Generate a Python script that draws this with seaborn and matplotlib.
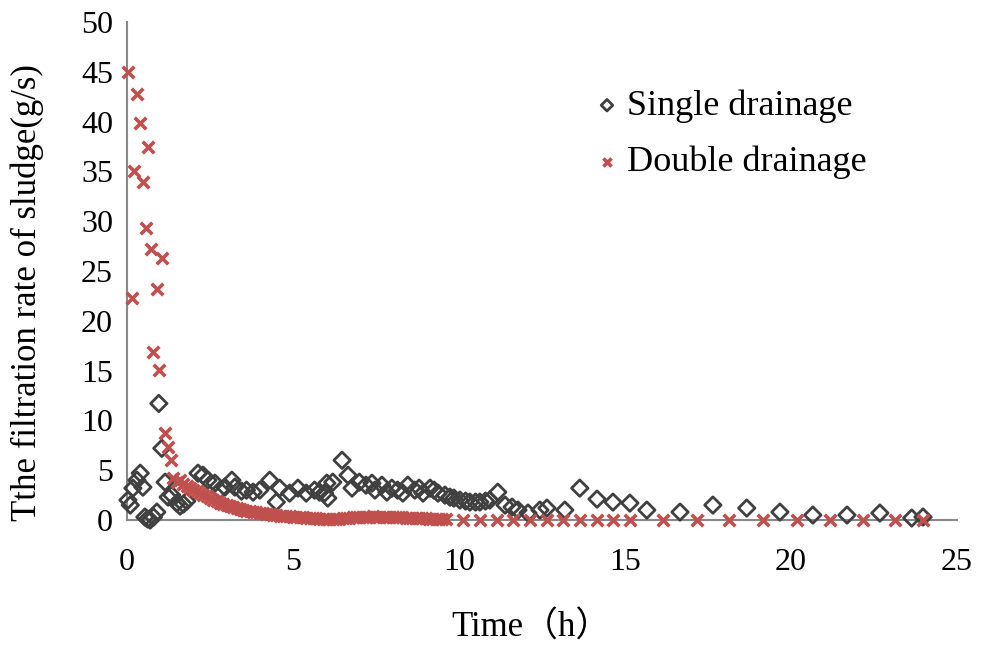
import pandas as pd
import matplotlib
matplotlib.use('Agg')
import matplotlib.pyplot as plt
import seaborn as sns

# Single drainage (open diamonds)
single_t = [0.03, 0.1, 0.18, 0.3, 0.4, 0.48, 0.54, 0.62, 0.7, 0.8, 0.9, 0.96, 1.05, 1.15, 1.24,
            1.35, 1.5, 1.6, 1.7, 1.8, 2.14, 2.29, 2.44, 2.65, 2.8, 2.95, 3.16, 3.25, 3.45, 3.6,
            3.8, 4.0, 4.3, 4.5, 4.6, 4.9, 5.15, 5.4, 5.65, 5.8, 5.95, 6.02, 6.05, 6.2, 6.48,
            6.66, 6.78, 7.0, 7.2, 7.38, 7.47, 7.68, 7.83, 7.98, 8.15, 8.31, 8.46, 8.67, 8.8,
            8.92, 9.13, 9.25, 9.37, 9.58, 9.73, 9.85, 10.03, 10.2, 10.33, 10.5, 10.63, 10.8,
            10.93, 11.17, 11.39, 11.6, 11.78, 12.08, 12.44, 12.65, 13.19, 13.64, 14.16, 14.64,
            15.15, 15.66, 16.66, 17.65, 18.67, 19.67, 20.66, 21.69, 22.68, 23.64, 23.98]
single_v = [2.0, 1.5, 3.2, 4.0, 4.7, 3.3, 0.3, 0.1, 0.0, 0.3, 0.8, 11.7, 7.2, 3.8, 2.3,
            2.5, 1.7, 1.4, 1.6, 1.9, 4.7, 4.5, 4.0, 3.7, 3.0, 3.3, 4.0, 3.3, 2.9, 3.0,
            2.8, 3.0, 4.0, 1.8, 3.2, 2.7, 3.2, 2.7, 3.0, 2.8, 2.7, 3.7, 2.2, 3.8, 6.0,
            4.5, 3.2, 3.8, 3.5, 3.7, 3.0, 3.5, 2.8, 3.2, 3.0, 2.7, 3.5, 3.0, 3.2,
            2.7, 3.2, 3.0, 2.7, 2.5, 2.3, 2.2, 2.0, 1.9, 1.8, 1.8, 1.8, 1.9,
            2.0, 2.8, 1.5, 1.3, 1.0, 0.7, 1.0, 1.2, 1.0, 3.2, 2.1, 1.8,
            1.7, 1.0, 0.8, 1.5, 1.2, 0.8, 0.5, 0.5, 0.7, 0.2, 0.3]

# Double drainage (red crosses)
double_t = [0.03, 0.15, 0.2, 0.3, 0.4, 0.48, 0.57, 0.63, 0.72, 0.78, 0.9, 0.96, 1.05, 1.15, 1.24, 1.32,
            1.4, 1.5, 1.6, 1.7, 1.8, 1.9, 2.0, 2.1, 2.2, 2.3, 2.4, 2.5, 2.6, 2.7, 2.8, 2.9,
            3.0, 3.1, 3.2, 3.3, 3.4, 3.5, 3.6, 3.7, 3.8, 3.9, 4.0, 4.1, 4.2, 4.3, 4.4, 4.5,
            4.6, 4.7, 4.8, 4.9, 5.0, 5.1, 5.2, 5.3, 5.4, 5.5, 5.6, 5.7, 5.8, 5.9, 6.0, 6.1,
            6.2, 6.3, 6.4, 6.5, 6.6, 6.7, 6.8, 6.9, 7.0, 7.1, 7.2, 7.3, 7.4, 7.5, 7.6, 7.7,
            7.8, 7.9, 8.0, 8.1, 8.2, 8.3, 8.4, 8.5, 8.6, 8.7, 8.8, 8.9, 9.0, 9.1, 9.2, 9.3,
            9.4, 9.5, 9.6, 10.12, 10.63, 11.14, 11.63, 12.14, 12.65, 13.13, 13.64, 14.16,
            14.63, 15.15, 16.14, 17.17, 18.14, 19.16, 20.18, 21.17, 22.17, 23.13, 23.98]
double_v = [45.0, 22.3, 35.0, 42.8, 39.9, 33.9, 29.3, 37.4, 27.2, 16.9, 23.2, 15.1, 26.3, 8.7, 7.3, 6.0,
            4.2, 3.8, 4.0, 3.6, 3.4, 3.2, 3.0, 2.9, 2.7, 2.5, 2.4, 2.2, 2.0, 1.9, 1.7, 1.6,
            1.5, 1.4, 1.3, 1.2, 1.1, 1.0, 0.95, 0.9, 0.85, 0.8, 0.75, 0.7, 0.65, 0.6, 0.55, 0.5,
            0.45, 0.42, 0.4, 0.38, 0.35, 0.32, 0.3, 0.28, 0.25, 0.22, 0.2, 0.18, 0.15, 0.12, 0.1, 0.08,
            0.1, 0.12, 0.15, 0.2, 0.22, 0.25, 0.28, 0.3, 0.32, 0.33, 0.35, 0.35, 0.36, 0.35, 0.34, 0.33,
            0.32, 0.3, 0.3, 0.28, 0.27, 0.26, 0.25, 0.24, 0.22, 0.2, 0.2, 0.18, 0.17, 0.15, 0.15, 0.14,
            0.13, 0.12, 0.11, 0.05, 0.05, 0.05, 0.05, 0.05, 0.05, 0.05, 0.05, 0.05,
            0.05, 0.05, 0.05, 0.05, 0.05, 0.05, 0.05, 0.05, 0.05, 0.05, 0.05]

x_ticks = [0, 5, 10, 15, 20, 25]
y_ticks = [0, 5, 10, 15, 20, 25, 30, 35, 40, 45, 50]

df_single = pd.DataFrame({'Time': single_t, 'Rate': single_v})
df_double = pd.DataFrame({'Time': double_t, 'Rate': double_v})

sns.set_style('white')
plt.rcParams['font.family'] = ['Liberation Serif', 'Noto Sans CJK SC']
plt.rcParams['text.color'] = 'black'
plt.rcParams['axes.labelcolor'] = 'black'
plt.rcParams['xtick.color'] = 'black'
plt.rcParams['ytick.color'] = 'black'

fig = plt.figure(figsize=(9.88, 6.46), dpi=100)
ax = fig.add_axes([0.1285, 0.195, 0.840, 0.771])

sns.scatterplot(data=df_single, x='Time', y='Rate', ax=ax, marker='D', s=70,
                facecolor='none', edgecolor='#404040', linewidth=2,
                label='Single drainage', clip_on=False, zorder=3)
sns.scatterplot(data=df_double, x='Time', y='Rate', ax=ax, marker='x', s=70,
                color='#c0504d', linewidth=2.6,
                label='Double drainage', clip_on=False, zorder=4)

ax.set_xlim(0, 25)
ax.set_ylim(0, 50)
ax.set_xticks(x_ticks)
ax.set_yticks(y_ticks)
ax.tick_params(direction='in', length=6, width=1.3, color='#888888', labelcolor='black', labelsize=23)
ax.tick_params(axis='x', pad=20)
ax.tick_params(axis='y', pad=10)
for side in ['top', 'right']:
    ax.spines[side].set_visible(False)
for side in ['left', 'bottom']:
    ax.spines[side].set_color('#888888')
    ax.spines[side].set_linewidth(1.5)

ax.set_xlabel('Time（h）', fontsize=25)
ax.set_ylabel('Tthe filtration rate of sludge(g/s)', fontsize=25)
ax.xaxis.set_label_coords(0.487, -0.183)
ax.yaxis.set_label_coords(-0.1, 0.456)

ax.legend(loc='upper left', bbox_to_anchor=(0.561, 0.865), frameon=False, fontsize=26,
          markerscale=0.7, handletextpad=0.15, labelspacing=0.64, handlelength=0.8,
          borderpad=0, borderaxespad=0)

plt.savefig('out.png', dpi=100)
